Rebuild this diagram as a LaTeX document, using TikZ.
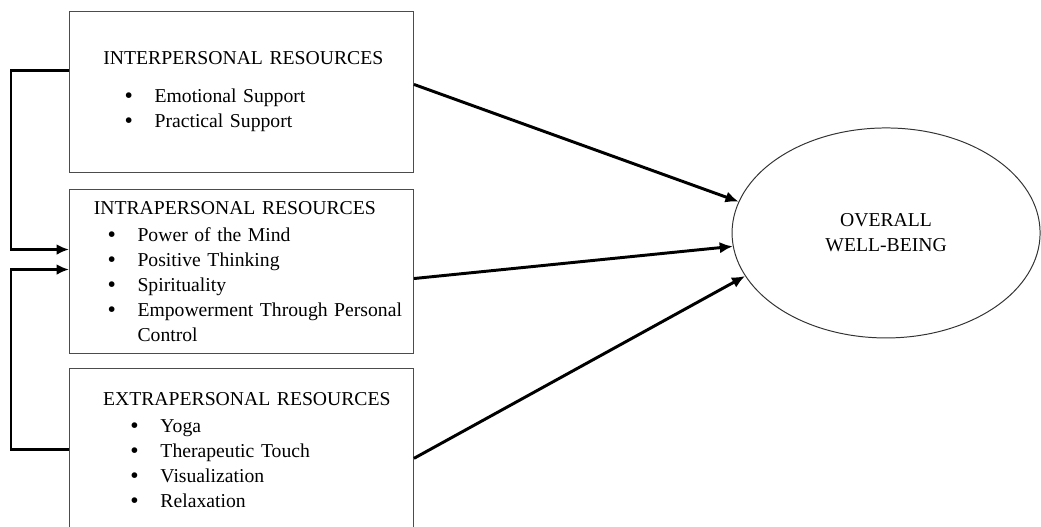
\documentclass[tikz,border=0pt]{standalone}
\usepackage{fontspec}
\setmainfont{Liberation Serif}
\usepackage{tikz}
\usetikzlibrary{shapes.geometric, arrows, arrows.meta, positioning}

\newcommand{\itm}[1]{\makebox[18.3pt][l]{\raisebox{-0.5pt}{\fontsize{14.5}{15}\selectfont\textbullet}}#1}

\tikzstyle{resbox} = [rectangle, draw=black!70, line width=0.6pt, minimum width=209.8pt, text width=209.8pt, inner xsep=0pt, inner ysep=0pt, align=left, font=\fontsize{12}{15.2}\selectfont]
\tikzstyle{outcome} = [ellipse, draw=black!80, line width=0.6pt, minimum width=187.9pt, minimum height=128.1pt, align=center, font=\fontsize{12}{15.2}\selectfont]
\tikzstyle{arrow} = [draw, line width=1.8pt, -{Latex[length=8pt,width=7pt]}]
\tikzstyle{line} = [draw, line width=1.5pt, -{Latex[length=7.5pt,width=6.5pt]}]

\begin{document}
\begin{tikzpicture}
        \useasboundingbox (0,0) rectangle (635pt,-320.9pt);

        \node (inter) [resbox, minimum height=98.2pt, anchor=north west] at (42.1pt,-6.7pt) {\hspace*{20.7pt}INTERPERSONAL RESOURCES\\[8pt]
                \hspace*{33.6pt}\itm{Emotional Support}\\
                \hspace*{33.6pt}\itm{Practical Support}};
        \node (intra) [resbox, minimum height=100pt, below=9.8pt of inter] {\hspace*{14.8pt}INTRAPERSONAL RESOURCES\\[1.2pt]
                \hspace*{23.2pt}\itm{Power of the Mind}\\
                \hspace*{23.2pt}\itm{Positive Thinking}\\
                \hspace*{23.2pt}\itm{Spirituality}\\
                \hspace*{23.2pt}\itm{Empowerment Through Personal}\\
                \hspace*{41.5pt}Control};
        \node (extra) [resbox, minimum height=100pt, below=8.5pt of intra] {\hspace*{20.5pt}EXTRAPERSONAL RESOURCES\\[1.8pt]
                \hspace*{37.2pt}\itm{Yoga}\\
                \hspace*{37.2pt}\itm{Therapeutic Touch}\\
                \hspace*{37.2pt}\itm{Visualization}\\
                \hspace*{37.2pt}\itm{Relaxation}};
        \node (wb) [outcome] at (540.5pt,-142.1pt) {OVERALL\\WELL-BEING};

        \coordinate (rail) at (6.7pt,0);
        \coordinate (s1) at ([yshift=13.1pt]inter.west);
        \coordinate (e1) at ([yshift=13.4pt]intra.west);
        \coordinate (s2) at ([yshift=0.6pt]extra.west);
        \coordinate (e2) at ([yshift=1.2pt]intra.west);

        % Draw edges
        \path [arrow] ([yshift=4.6pt]inter.east) -- (wb.168.5);
        \path [arrow] ([yshift=-4.3pt]intra.east) -- (wb.185.6);
        \path [arrow] ([yshift=-4.9pt]extra.east) -- (wb.197.3);
        \path [line] (s1) -- (s1 -| rail) -- (e1 -| rail) -- (e1);
        \path [line] (s2) -- (s2 -| rail) -- (e2 -| rail) -- (e2);

\end{tikzpicture}
\end{document}
